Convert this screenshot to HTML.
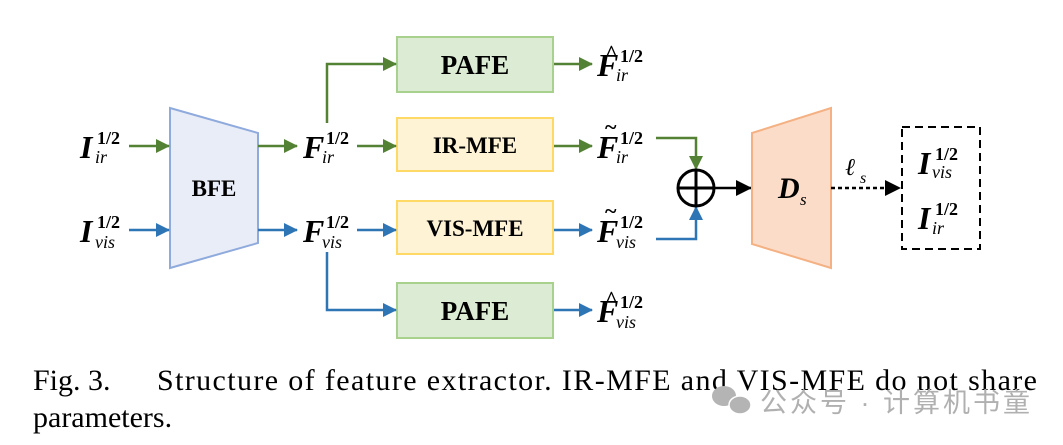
<!DOCTYPE html>
<html><head><meta charset="utf-8"><style>
html,body{margin:0;padding:0;background:#fff;}
svg{display:block}
</style></head><body>
<svg width="1063" height="445" viewBox="0 0 1063 445" xmlns="http://www.w3.org/2000/svg">
<defs>
<marker id="ag" markerWidth="14" markerHeight="14" refX="13" refY="7" orient="auto" markerUnits="userSpaceOnUse"><path d="M0,0 L14,7 L0,14 Z" fill="#548235"/></marker>
<marker id="ab" markerWidth="14" markerHeight="14" refX="13" refY="7" orient="auto" markerUnits="userSpaceOnUse"><path d="M0,0 L14,7 L0,14 Z" fill="#2e75b6"/></marker>
<marker id="ak" markerWidth="16" markerHeight="16" refX="15" refY="8" orient="auto" markerUnits="userSpaceOnUse"><path d="M0,0 L16,8 L0,16 Z" fill="#000"/></marker>
</defs>
<g font-family="Liberation Serif, serif">
<polygon points="170,108 258,133 258,243 170,268" fill="#e9edf8" stroke="#8faadc" stroke-width="2"/>
<text x="214" y="196" font-size="23" font-weight="bold" text-anchor="middle">BFE</text>
<rect x="397" y="37" width="156" height="55" fill="#dcebd4" stroke="#a9d18e" stroke-width="2"/>
<text x="475" y="74" font-size="27" font-weight="bold" text-anchor="middle">PAFE</text>
<rect x="397" y="118" width="156" height="53" fill="#fff3d6" stroke="#ffd966" stroke-width="2"/>
<text x="475" y="153" font-size="23" font-weight="bold" text-anchor="middle">IR-MFE</text>
<rect x="397" y="201" width="156" height="53" fill="#fff3d6" stroke="#ffd966" stroke-width="2"/>
<text x="475" y="236" font-size="23" font-weight="bold" text-anchor="middle">VIS-MFE</text>
<rect x="397" y="283" width="156" height="55" fill="#dcebd4" stroke="#a9d18e" stroke-width="2"/>
<text x="475" y="320" font-size="27" font-weight="bold" text-anchor="middle">PAFE</text>
<g stroke="#548235" stroke-width="2.5" fill="none">
<line x1="129" y1="146" x2="169" y2="146" marker-end="url(#ag)"/>
<line x1="258" y1="146" x2="297" y2="146" marker-end="url(#ag)"/>
<line x1="357" y1="146" x2="396" y2="146" marker-end="url(#ag)"/>
<polyline points="327,123 327,64 396,64" marker-end="url(#ag)"/>
<line x1="554" y1="64" x2="592" y2="64" marker-end="url(#ag)"/>
<line x1="554" y1="146" x2="592" y2="146" marker-end="url(#ag)"/>
<polyline points="656,138 696,138 696,169" marker-end="url(#ag)"/>
</g>
<g stroke="#2e75b6" stroke-width="2.5" fill="none">
<line x1="129" y1="230" x2="169" y2="230" marker-end="url(#ab)"/>
<line x1="258" y1="230" x2="297" y2="230" marker-end="url(#ab)"/>
<line x1="357" y1="230" x2="396" y2="230" marker-end="url(#ab)"/>
<polyline points="327,252 327,310 396,310" marker-end="url(#ab)"/>
<line x1="554" y1="230" x2="592" y2="230" marker-end="url(#ab)"/>
<line x1="554" y1="310" x2="592" y2="310" marker-end="url(#ab)"/>
<polyline points="656,239 696,239 696,207" marker-end="url(#ab)"/>
</g>
<circle cx="696" cy="188" r="18" fill="#fff" stroke="#000" stroke-width="3"/>
<line x1="678" y1="188" x2="714" y2="188" stroke="#000" stroke-width="3"/>
<line x1="696" y1="170" x2="696" y2="206" stroke="#000" stroke-width="3"/>
<line x1="714" y1="188" x2="751" y2="188" stroke="#000" stroke-width="2.5" marker-end="url(#ak)"/>
<polygon points="752,133 831,108 831,268 752,244" fill="#fbdcc9" stroke="#f4b183" stroke-width="2"/>
<text x="778" y="198" font-size="30" font-weight="bold" font-style="italic">D</text>
<text x="800" y="205" font-size="17" font-style="italic">s</text>
<line x1="831" y1="188" x2="900" y2="188" stroke="#000" stroke-width="2.5" stroke-dasharray="4,3" marker-end="url(#ak)"/>
<text x="845" y="175" font-size="24" font-style="italic">ℓ</text>
<text x="860" y="183" font-size="16" font-style="italic">s</text>
<rect x="902" y="127" width="78" height="122" fill="none" stroke="#000" stroke-width="2" stroke-dasharray="8,5"/>
<g font-size="32">
<text x="918" y="174" font-weight="bold" font-style="italic">I</text><text x="935" y="160" font-size="18" font-weight="bold">1/2</text><text x="932" y="178" font-size="18" font-style="italic">vis</text>
<text x="918" y="229" font-weight="bold" font-style="italic">I</text><text x="935" y="215" font-size="18" font-weight="bold">1/2</text><text x="932" y="234" font-size="18" font-style="italic">ir</text>

<text x="80" y="158" font-weight="bold" font-style="italic">I</text><text x="97" y="144" font-size="18" font-weight="bold">1/2</text><text x="95" y="163" font-size="18" font-style="italic">ir</text>
<text x="80" y="242" font-weight="bold" font-style="italic">I</text><text x="97" y="228" font-size="18" font-weight="bold">1/2</text><text x="95" y="248" font-size="18" font-style="italic">vis</text>

<text x="303" y="158" font-weight="bold" font-style="italic">F</text><text x="326" y="144" font-size="18" font-weight="bold">1/2</text><text x="322" y="163" font-size="18" font-style="italic">ir</text>
<text x="303" y="242" font-weight="bold" font-style="italic">F</text><text x="326" y="228" font-size="18" font-weight="bold">1/2</text><text x="322" y="248" font-size="18" font-style="italic">vis</text>

<text x="597" y="76" font-weight="bold" font-style="italic">F</text><text x="605" y="60" font-size="22" font-weight="bold">^</text><text x="620" y="62" font-size="18" font-weight="bold">1/2</text><text x="616" y="81" font-size="18" font-style="italic">ir</text>
<text x="597" y="158" font-weight="bold" font-style="italic">F</text><text x="605" y="134" font-size="22" font-weight="bold">~</text><text x="620" y="144" font-size="18" font-weight="bold">1/2</text><text x="616" y="163" font-size="18" font-style="italic">ir</text>
<text x="597" y="242" font-weight="bold" font-style="italic">F</text><text x="605" y="218" font-size="22" font-weight="bold">~</text><text x="620" y="228" font-size="18" font-weight="bold">1/2</text><text x="616" y="248" font-size="18" font-style="italic">vis</text>
<text x="597" y="322" font-weight="bold" font-style="italic">F</text><text x="605" y="306" font-size="22" font-weight="bold">^</text><text x="620" y="308" font-size="18" font-weight="bold">1/2</text><text x="616" y="328" font-size="18" font-style="italic">vis</text>
</g>
<text x="33" y="390" font-size="30">Fig. 3.</text>
<text x="157" y="390" font-size="30" textLength="880" lengthAdjust="spacing">Structure of feature extractor. IR-MFE and VIS-MFE do not share</text>
<text x="33" y="427" font-size="30">parameters.</text>
</g>
<g fill="#b4b4b4">
<ellipse cx="724" cy="396" rx="12" ry="10"/>
<ellipse cx="740" cy="405" rx="11" ry="9" stroke="#fff" stroke-width="1.5"/>
</g>
<text x="760" y="412" font-size="27" fill="#b0b0b0" font-family="Liberation Sans, Noto Sans CJK SC, sans-serif" textLength="270">公众号 · 计算机书童</text>
</svg>
</body></html>
